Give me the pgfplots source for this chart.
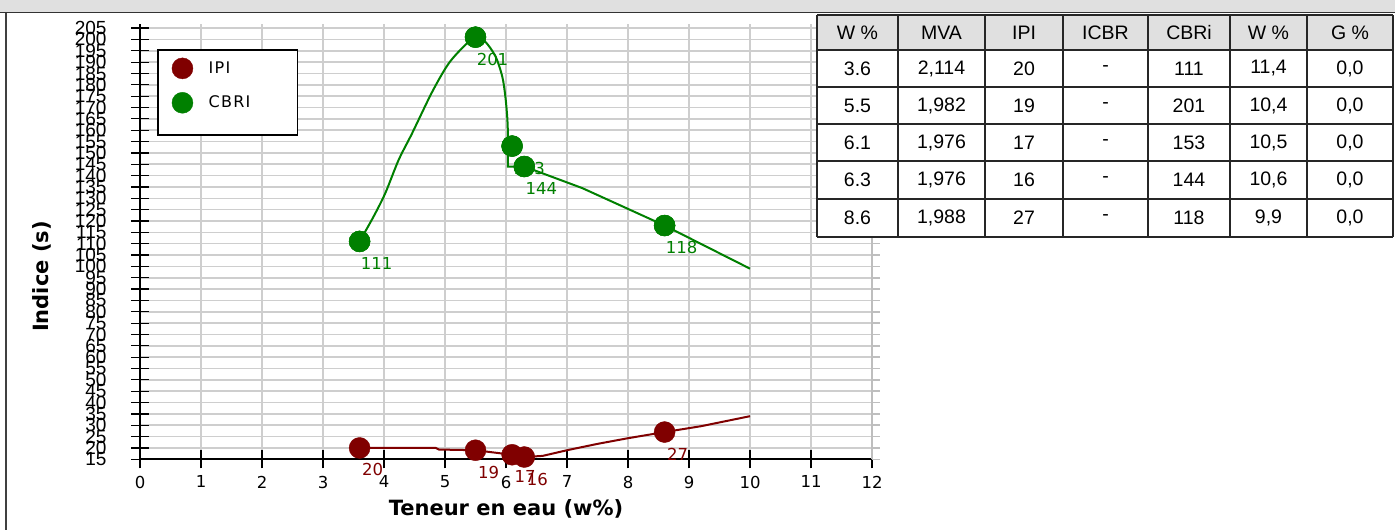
\documentclass[border=0pt]{standalone}
\usepackage{fontspec}
\setmainfont{DejaVu Sans}
\newfontfamily\tabfont{Liberation Sans}
\usepackage{pgfplots}
\pgfplotsset{compat=1.18}
\definecolor{ipi}{RGB}{128,0,0}
\definecolor{cbr}{RGB}{0,128,0}
\definecolor{gridc}{RGB}{206,206,206}
\definecolor{raxis}{RGB}{190,190,190}
\definecolor{hdr}{RGB}{224,224,224}
\newcommand{\tabf}{\tabfont\fontsize{19.5}{19.5}\selectfont}
\newcommand{\cell}[3]{\node[font=\tabf, anchor=center] at (#1pt,-#2pt) {#3};}
\newcommand{\trow}[8]{%
 \cell{857.5}{#1}{#2}\cell{941.5}{#1}{#3}\cell{1024}{#1}{#4}\cell{1105.5}{#1}{#5}%
 \cell{1189}{#1}{#6}\cell{1268.5}{#1}{#7}\cell{1350}{#1}{#8}}
\begin{document}
\begin{tikzpicture}
\useasboundingbox (0pt,0pt) rectangle (1395pt,-530pt);
\fill[white] (0pt,0pt) rectangle (1395pt,-530pt);
\fill[hdr] (0pt,0pt) rectangle (1395pt,-12pt);
\draw[line width=1.5pt, black!80] (0pt,-12.5pt) -- (1395pt,-12.5pt);
\draw[line width=1.2pt, black!75] (6pt,-12.5pt) -- (6pt,-530pt);
\begin{axis}[
  at={(140pt,-459.3pt)}, anchor=south west,
  width=732pt, height=435.3pt, scale only axis,
  xmin=0, xmax=12, ymin=15, ymax=206.8,
  axis lines*=left,
  axis line style={-, line width=1.8pt, black},
  xtick={0,1,...,12},
  ytick={15,20,...,205},
  grid=major,
  major grid style={gridc, line width=1.6pt},
  tick align=center,
  major tick length=18pt,
  tick style={black, line width=1.2pt},
  clip=false,
  /pgf/number format/assume math mode=true,
  xticklabel style={font=\fontsize{16.5}{16.5}\selectfont, yshift=-4pt},
  yticklabel style={font=\tabfont\fontsize{19}{19}\selectfont, xshift=-21pt},
  xlabel={Teneur en eau (w\%)},
  ylabel={Indice (s)},
  xlabel style={at={(axis description cs:0.5,-0.115)}, anchor=center, font=\bfseries\fontsize{21}{21}\selectfont},
  ylabel style={at={(axis description cs:-0.134,0.42)}, anchor=center, font=\bfseries\fontsize{21}{21}\selectfont},
  legend style={at={(rel axis cs:0.0431,0.9231)}, anchor=north west, draw=none, fill=none,
    font=\addfontfeature{LetterSpace=8}\fontsize{16}{16}\selectfont,
    inner xsep=0pt, inner ysep=0pt, row sep=13pt, column sep=15.5pt,
    nodes={inner sep=0pt}, cells={anchor=west}},
  legend image code/.code={\fill[#1] (0pt,0pt) circle[radius=10.5pt];},
]
% right-hand axis (grey) with its ticks
\draw[raxis, line width=2.5pt] (rel axis cs:1,0) -- (rel axis cs:1,1);
\pgfplotsinvokeforeach{15,20,...,205}{\draw[raxis, line width=1.6pt] (axis cs:12,#1) -- ++(8pt,0pt);}
% legend frame
\draw[black, line width=1.3pt, fill=white] (rel axis cs:0.0247,0.9403) rectangle (rel axis cs:0.2151,0.745);
% fitted curves
\addplot[ipi, line width=2pt, forget plot] coordinates {
 (3.6,20) (4.85,20) (4.9,19.3) (5.5,19) (6.1,17) (6.3,16) (6.6,16.5) (7,19) (7.5,21.8)
 (8,24.3) (8.6,27) (9.2,29.6) (10,34)};
\addplot[cbr, line width=2pt, smooth, tension=0.5, forget plot] coordinates {
 (3.6,111) (3.83,122) (4.02,132.2) (4.24,146.9) (4.46,158.6) (4.79,176.9) (5.06,189.4)
 (5.33,197.5) (5.5,201) (5.66,199) (5.83,192.4) (5.94,183.5) (5.99,174.7) (6.02,165.9)
 (6.03,160)};
\addplot[cbr, line width=2pt, forget plot] coordinates {
 (6.03,160) (6.03,144) (6.18,144) (6.3,144) (7.25,134.5) (8.6,118) (10,99)};
% measured points with value labels
\addplot[only marks, mark=*, mark size=10.5pt, color=ipi, point meta=y,
  nodes near coords={\pgfmathprintnumber{\pgfplotspointmeta}},
  nodes near coords style={anchor=center, xshift=13pt, yshift=-22pt, text=ipi,
   font=\fontsize{16.5}{16.5}\selectfont}]
 coordinates {(3.6,20) (5.5,19) (6.1,17) (6.3,16) (8.6,27)};
\addlegendentry{IPI}
\addplot[only marks, mark=*, mark size=10.5pt, color=cbr, point meta=y,
  nodes near coords={\pgfmathprintnumber{\pgfplotspointmeta}},
  nodes near coords style={anchor=center, xshift=17pt, yshift=-22pt, text=cbr,
   font=\fontsize{16.5}{16.5}\selectfont}]
 coordinates {(3.6,111) (5.5,201) (6.1,153) (6.3,144) (8.6,118)};
\addlegendentry{CBRI}
\addplot[only marks, mark=*, mark size=10.5pt, color=cbr, forget plot]
 coordinates {(3.6,111) (5.5,201) (6.1,153) (6.3,144) (8.6,118)};
\end{axis}
% data table
\fill[hdr] (817pt,-15pt) rectangle (1393pt,-50pt);
\fill[white] (817pt,-50pt) rectangle (1393pt,-237pt);
\foreach \yy in {15,50,87,124,161,199,237} {\draw[line width=1.3pt, black!85] (817pt,-\yy pt) -- (1393pt,-\yy pt);}
\foreach \xx in {817,898,985,1063,1148,1230,1307,1393} {\draw[line width=1.3pt, black!85] (\xx pt,-15pt) -- (\xx pt,-237pt);}
\trow{32.5}{W \%}{MVA}{IPI}{ICBR}{CBRi}{W \%}{G \%}
\trow{68.5}{3.6}{2,114}{20}{-}{111}{11,4}{0,0}
\trow{105.5}{5.5}{1,982}{19}{-}{201}{10,4}{0,0}
\trow{142.5}{6.1}{1,976}{17}{-}{153}{10,5}{0,0}
\trow{180}{6.3}{1,976}{16}{-}{144}{10,6}{0,0}
\trow{218}{8.6}{1,988}{27}{-}{118}{9,9}{0,0}
\end{tikzpicture}
\end{document}
